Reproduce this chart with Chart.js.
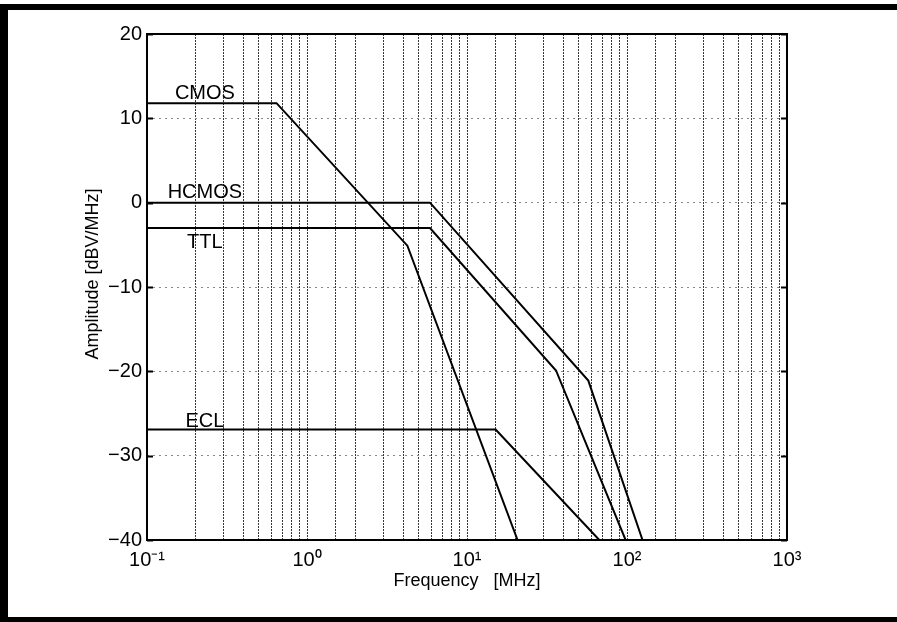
<!DOCTYPE html>
<html>
<head>
<meta charset="utf-8">
<script src="https://cdn.jsdelivr.net/npm/chart.js@4.4.1/dist/chart.umd.min.js"></script>
<style>
  html, body { margin: 0; padding: 0; background: #fff; }
  #wrap { width: 897px; height: 622px; }
</style>
</head>
<body>
<div id="wrap"><canvas id="graph" width="897" height="622"></canvas></div>
<script>
var seriesNames = ["CMOS", "HCMOS", "TTL", "ECL"];

var cmosFreq = [0.1, 0.645, 4.24, 20.7];
var cmosAmp = [11.8, 11.8, -5.1, -40];

var hcmosFreq = [0.1, 5.87, 57.3, 125];
var hcmosAmp = [0, 0, -21.1, -40];

var ttlFreq = [0.1, 5.87, 36, 98];
var ttlAmp = [-3, -3, -19.9, -40];

var eclFreq = [0.1, 15.1, 67.1];
var eclAmp = [-26.9, -26.9, -40];

var yTicks = [-40, -30, -20, -10, 0, 10, 20];
var yTickLabels = ["\u221240", "\u221230", "\u221220", "\u221210", "0", "10", "20"];
var xDecades = [0.1, 1, 10, 100, 1000];
var xTickLabels = ["10\u207B\u00B9", "10\u2070", "10\u00B9", "10\u00B2", "10\u00B3"];

var font = "'Liberation Sans', Arial, Helvetica, sans-serif";

function punkte(freq, amp) {
  return freq.map(function(f, i) { return { x: f, y: amp[i] }; });
}

var allSeries = [
  punkte(cmosFreq, cmosAmp),
  punkte(hcmosFreq, hcmosAmp),
  punkte(ttlFreq, ttlAmp),
  punkte(eclFreq, eclAmp)
];

// label placement: frequency of label centre, pixel shift from the flat level
var labelFreq = 0.23;
var labelShift = [-4, -5, 20, -3];

var rahmen = {
  id: "rahmen",
  beforeDraw: function(chart) {
    var ctx = chart.ctx;
    ctx.save();
    ctx.fillStyle = "#000";
    ctx.fillRect(0, 4, 897, 6);
    ctx.fillRect(0, 4, 8, 618);
    ctx.fillRect(0, 617, 897, 5);
    ctx.restore();
  },
  afterDraw: function(chart) {
    var ctx = chart.ctx;
    var a = chart.chartArea;
    var xs = chart.scales.x;
    var ys = chart.scales.y;
    ctx.save();
    ctx.strokeStyle = "#000";
    ctx.lineWidth = 2;
    ctx.strokeRect(a.left, a.top, a.right - a.left, a.bottom - a.top);

    // small inward ticks on both y edges
    ctx.beginPath();
    yTicks.forEach(function(v) {
      var py = Math.round(ys.getPixelForValue(v)) + 0.5;
      ctx.moveTo(a.left, py);
      ctx.lineTo(a.left + 6, py);
      ctx.moveTo(a.right - 6, py);
      ctx.lineTo(a.right, py);
    });
    ctx.stroke();

    ctx.fillStyle = "#000";
    ctx.font = "20px " + font;
    ctx.textAlign = "center";
    ctx.textBaseline = "alphabetic";
    seriesNames.forEach(function(name, i) {
      var px = xs.getPixelForValue(labelFreq);
      var py = ys.getPixelForValue(allSeries[i][0].y) + labelShift[i];
      ctx.fillText(name, px, py);
    });

    ctx.translate(93, 274);
    ctx.rotate(-Math.PI / 2);
    ctx.font = "18px " + font;
    ctx.textBaseline = "middle";
    ctx.fillText("Amplitude [dBV/MHz]", 0, 0);
    ctx.restore();
  }
};

var datasets = allSeries.map(function(d, i) {
  return {
    label: seriesNames[i],
    data: d,
    borderColor: "#000",
    borderWidth: 2,
    pointRadius: 0,
    fill: false,
    tension: 0
  };
});

function istDekade(v) {
  var l = Math.log10(v);
  return Math.abs(l - Math.round(l)) < 1e-9;
}

var ctx = document.getElementById("graph").getContext("2d");
var chart = new Chart(ctx, {
  type: "line",
  data: { datasets: datasets },
  plugins: [rahmen],
  options: {
    responsive: false,
    animation: false,
    devicePixelRatio: 1,
    layout: { padding: { left: 0, top: 34, right: 110, bottom: 0 } },
    plugins: {
      legend: { display: false },
      tooltip: { enabled: false }
    },
    scales: {
      x: {
        type: "logarithmic",
        min: 0.1,
        max: 1000,
        afterFit: function(scale) { scale.height = 82; },
        border: { display: false, dash: [2, 1] },
        grid: {
          color: "rgba(0,0,0,0.78)",
          lineWidth: 1,
          drawTicks: false
        },
        ticks: {
          autoSkip: false,
          maxRotation: 0,
          padding: 8,
          color: "#000",
          font: { family: font, size: 20 },
          callback: function(value) {
            if (!istDekade(value)) return "";
            var idx = xDecades.findIndex(function(d) { return Math.abs(Math.log10(d) - Math.log10(value)) < 1e-9; });
            return idx >= 0 ? xTickLabels[idx] : "";
          }
        },
        title: {
          display: true,
          text: "Frequency   [MHz]",
          color: "#000",
          font: { family: font, size: 18 },
          padding: { top: 0, bottom: 30 }
        }
      },
      y: {
        type: "linear",
        min: -40,
        max: 20,
        afterFit: function(scale) { scale.width = 147; },
        border: { display: false, dash: [2, 4] },
        grid: {
          color: function(c) {
            var v = c.tick ? c.tick.value : null;
            return (v === 20 || v === -40) ? "rgba(0,0,0,0)" : "#888";
          },
          lineWidth: 1,
          drawTicks: false
        },
        ticks: {
          stepSize: 10,
          padding: 5,
          color: "#000",
          font: { family: font, size: 20 },
          callback: function(value) {
            var idx = yTicks.indexOf(value);
            return idx >= 0 ? yTickLabels[idx] : value;
          }
        }
      }
    }
  }
});
</script>
</body>
</html>
